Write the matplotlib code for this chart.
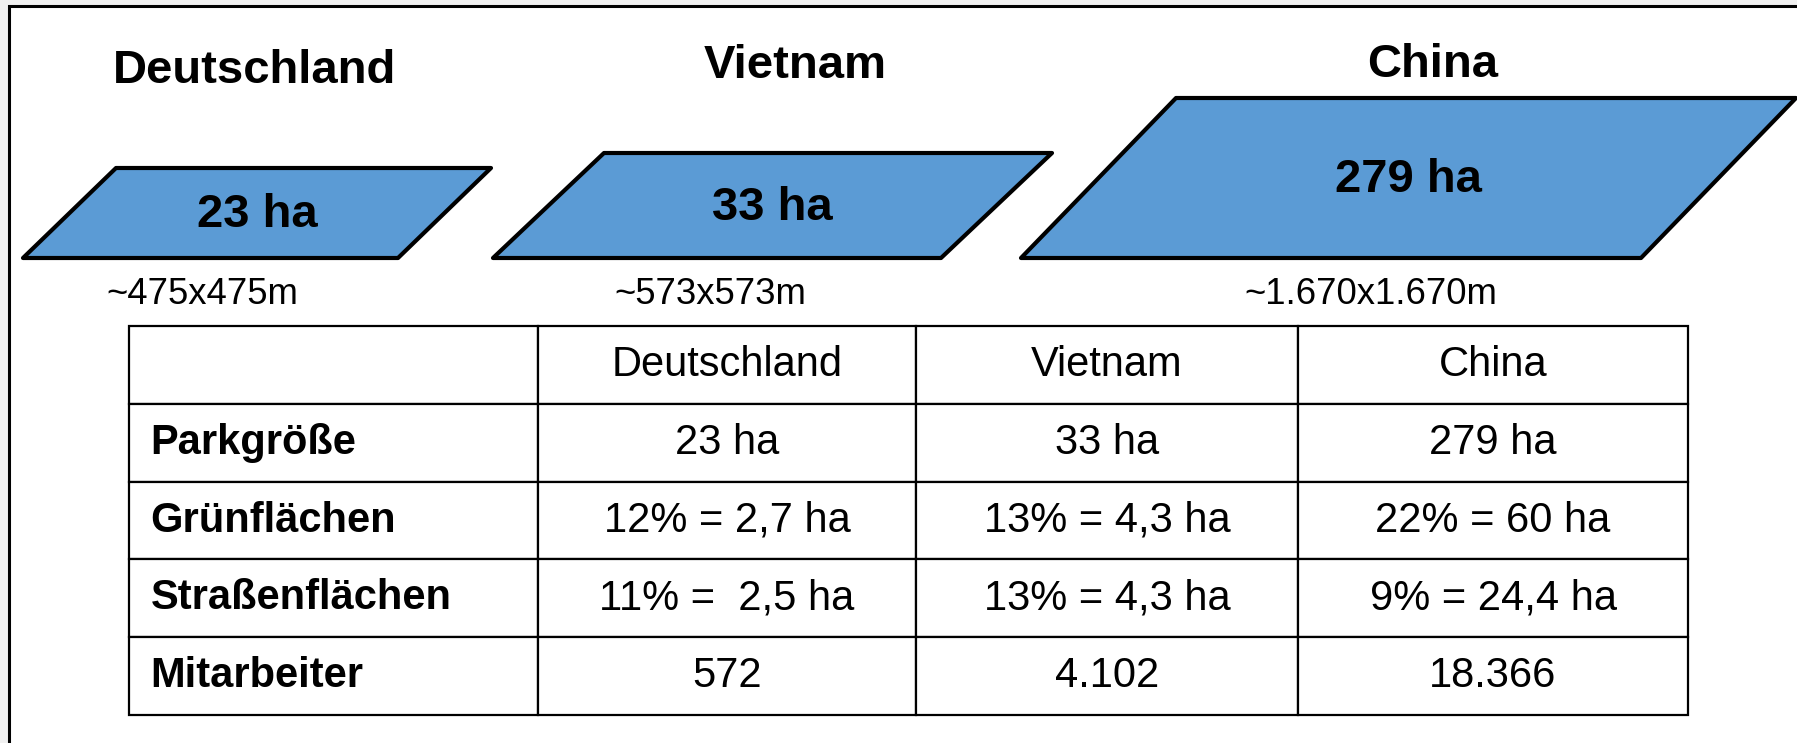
import matplotlib
matplotlib.use("Agg")
import matplotlib.pyplot as plt
from matplotlib.patches import Polygon, Rectangle
from matplotlib.table import Table

plt.rcParams['font.family'] = ['Liberation Sans', 'DejaVu Sans']

# data
countries = ["Deutschland", "Vietnam", "China"]
park_area = ["23 ha", "33 ha", "279 ha"]
dimensions = ["~475x475m", "~573x573m", "~1.670x1.670m"]
row_labels = ["Parkgröße", "Grünflächen", "Straßenflächen", "Mitarbeiter"]
green_area = ["12% = 2,7 ha", "13% = 4,3 ha", "22% = 60 ha"]
road_area = ["11% =  2,5 ha", "13% = 4,3 ha", "9% = 24,4 ha"]
employees = ["572", "4.102", "18.366"]

# layout in pixels (y grows downwards)
W, H = 1797, 743
title_x = [255, 795, 1433]
title_y = [83, 78, 77]
para_x0 = [23, 493, 1021]
para_w = [375, 448, 620]
para_h = [90, 105, 160]
para_skew = [93, 111, 155]
para_base = 258
dim_x = [202, 710, 1371]
dim_y = 304
col_widths = [409, 378, 382, 390]
table_left, table_top, table_bottom = 129, 326, 715

fig = plt.figure(figsize=(W / 100, H / 100), dpi=100)
fig.patch.set_facecolor('#f0f0f0')
ax = fig.add_axes([0, 0, 1, 1])
ax.set_xlim(0, W)
ax.set_ylim(H, 0)
ax.axis('off')

# white panel with black frame on left/top
ax.add_patch(Rectangle((8.5, 5.5), W + 20, H + 20, facecolor='white',
                       edgecolor='black', linewidth=2.2, zorder=0))

for i, name in enumerate(countries):
    x0, w, h, s = para_x0[i], para_w[i], para_h[i], para_skew[i]
    pts = [(x0, para_base), (x0 + w, para_base),
           (x0 + w + s, para_base - h), (x0 + s, para_base - h)]
    ax.add_patch(Polygon(pts, closed=True, facecolor='#5b9bd5',
                         edgecolor='black', linewidth=3, joinstyle='round'))
    cx = x0 + w / 2 + s / 2
    cy = para_base - h / 2
    ax.text(cx, cy + 14, park_area[i], ha='center', va='baseline',
            fontsize=34, fontweight='bold')
    ax.text(title_x[i], title_y[i], name, ha='center', va='baseline',
            fontsize=34, fontweight='bold')
    ax.text(dim_x[i], dim_y, dimensions[i], ha='center', va='baseline',
            fontsize=26.3)

# table
rows = [[""] + countries,
        [row_labels[0]] + park_area,
        [row_labels[1]] + green_area,
        [row_labels[2]] + road_area,
        [row_labels[3]] + employees]

total_w = sum(col_widths)
bbox = [table_left / W, 1 - table_bottom / H,
        total_w / W, (table_bottom - table_top) / H]
tb = Table(ax, bbox=bbox)
row_h = 1.0 / len(rows)
for r, row in enumerate(rows):
    for c, txt in enumerate(row):
        loc = 'left' if c == 0 else 'center'
        cell = tb.add_cell(r, c, col_widths[c] / total_w, row_h,
                           text=txt, loc=loc, facecolor='white',
                           edgecolor='black')
        cell.PAD = 0.053
        cell.set_linewidth(1.6)
tb.auto_set_font_size(False)
tb.set_fontsize(30)
for r in range(1, len(rows)):
    tb[r, 0].get_text().set_fontweight('bold')
tb.set_zorder(3)
ax.add_table(tb)

fig.savefig('out.png', dpi=100, facecolor=fig.get_facecolor())
